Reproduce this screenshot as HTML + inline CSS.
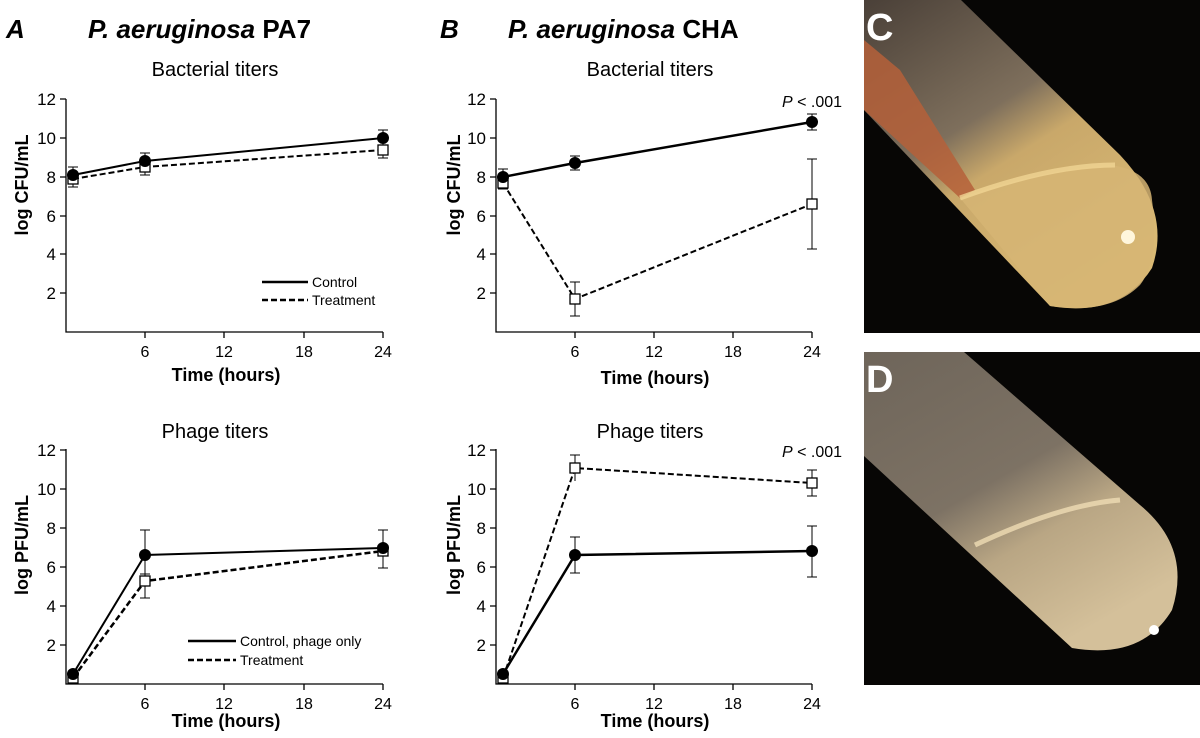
<!DOCTYPE html><html><head><style>body{margin:0;background:#fff}svg text{font-family:"Liberation Sans",Arial,sans-serif}</style></head><body>
<svg width="1200" height="733" xmlns="http://www.w3.org/2000/svg">
<defs>
<linearGradient id="gc" x1="0" y1="0" x2="0.6" y2="1"><stop offset="0" stop-color="#4a4038"/><stop offset="0.45" stop-color="#7e6f5c"/><stop offset="0.6" stop-color="#c9a86a"/><stop offset="1" stop-color="#d9b974"/></linearGradient>
<linearGradient id="gd" x1="0" y1="0" x2="0.6" y2="1"><stop offset="0" stop-color="#6e655a"/><stop offset="0.5" stop-color="#7d7264"/><stop offset="0.7" stop-color="#b9a684"/><stop offset="1" stop-color="#d4c09a"/></linearGradient>
</defs>
<g font-weight="bold">
<text x="6" y="38" font-size="26" font-style="italic">A</text>
<text x="88" y="38" font-size="26"><tspan font-style="italic">P. aeruginosa</tspan> PA7</text>
<text x="440" y="38" font-size="26" font-style="italic">B</text>
<text x="508" y="38" font-size="26"><tspan font-style="italic">P. aeruginosa</tspan> CHA</text>
</g>
<g font-size="20" text-anchor="middle">
<text x="215" y="76">Bacterial titers</text><text x="650" y="76">Bacterial titers</text>
<text x="215" y="438">Phage titers</text><text x="650" y="438">Phage titers</text>
</g>
<g font-size="18" font-weight="bold" text-anchor="middle">
<text x="226" y="381">Time (hours)</text><text x="655" y="384">Time (hours)</text>
<text x="226" y="727">Time (hours)</text><text x="655" y="727">Time (hours)</text>
<text transform="translate(28,185) rotate(-90)">log CFU/mL</text>
<text transform="translate(460,185) rotate(-90)">log CFU/mL</text>
<text transform="translate(28,545) rotate(-90)">log PFU/mL</text>
<text transform="translate(460,545) rotate(-90)">log PFU/mL</text>
</g>
<g font-size="16"><text x="782" y="107"><tspan font-style="italic">P</tspan> &lt; .001</text><text x="782" y="457"><tspan font-style="italic">P</tspan> &lt; .001</text></g>
<g stroke="#000" stroke-width="1.3" fill="none">
<path d="M66,99V332H383M66,99h-6M66,138h-6M66,177h-6M66,216h-6M66,254h-6M66,293h-6M145,332v6M224,332v6M304,332v6M383,332v6"/>
<path d="M66,449V684H383M66,450h-6M66,489h-6M66,528h-6M66,567h-6M66,606h-6M66,645h-6M145,684v6M224,684v6M304,684v6M383,684v6"/>
<path d="M496,99V332H812M496,99h-6M496,138h-6M496,177h-6M496,216h-6M496,254h-6M496,293h-6M575,332v6M654,332v6M733,332v6M812,332v6"/>
<path d="M496,449V684H812M496,450h-6M496,489h-6M496,528h-6M496,567h-6M496,606h-6M496,645h-6M575,684v6M654,684v6M733,684v6M812,684v6"/>
</g>
<g font-size="17" text-anchor="end">
<text x="56" y="105">12</text><text x="56" y="144">10</text><text x="56" y="183">8</text><text x="56" y="222">6</text><text x="56" y="260">4</text><text x="56" y="299">2</text>
<text x="56" y="456">12</text><text x="56" y="495">10</text><text x="56" y="534">8</text><text x="56" y="573">6</text><text x="56" y="612">4</text><text x="56" y="651">2</text>
<text x="486" y="105">12</text><text x="486" y="144">10</text><text x="486" y="183">8</text><text x="486" y="222">6</text><text x="486" y="260">4</text><text x="486" y="299">2</text>
<text x="486" y="456">12</text><text x="486" y="495">10</text><text x="486" y="534">8</text><text x="486" y="573">6</text><text x="486" y="612">4</text><text x="486" y="651">2</text>
</g>
<g font-size="16" text-anchor="middle">
<text x="145" y="357">6</text><text x="224" y="357">12</text><text x="304" y="357">18</text><text x="383" y="357">24</text>
<text x="145" y="709">6</text><text x="224" y="709">12</text><text x="304" y="709">18</text><text x="383" y="709">24</text>
<text x="575" y="357">6</text><text x="654" y="357">12</text><text x="733" y="357">18</text><text x="812" y="357">24</text>
<text x="575" y="709">6</text><text x="654" y="709">12</text><text x="733" y="709">18</text><text x="812" y="709">24</text>
</g>
<g stroke="#000" stroke-width="2.5"><line x1="262" y1="282" x2="308" y2="282"/><line x1="262" y1="300" x2="308" y2="300" stroke-dasharray="6,3"/>
<line x1="188" y1="641" x2="236" y2="641"/><line x1="188" y1="660" x2="236" y2="660" stroke-dasharray="6,3"/></g>
<g font-size="14"><text x="312" y="287">Control</text><text x="312" y="305">Treatment</text><text x="240" y="646">Control, phage only</text><text x="240" y="665">Treatment</text></g>
<g stroke="#000" stroke-width="1" fill="none">
<path d="M73,167v20M68,167h10M68,187h10M145,153v22M140,153h10M140,175h10M383,130v28M378,130h10M378,158h10"/>
<path d="M145,530v44M140,530h10M140,574h10M383,530v38M378,530h10M378,568h10M145,566v32M140,598h10M383,540v26"/>
<path d="M503,169v20M498,169h10M498,189h10M575,156v14M570,156h10M570,170h10M812,114v16M807,114h10M807,130h10M575,282v34M570,282h10M570,316h10M812,159v90M807,159h10M807,249h10"/>
<path d="M575,537v36M570,537h10M570,573h10M812,526v51M807,526h10M807,577h10M575,455v26M570,455h10M812,470v26M807,470h10M807,496h10"/>
</g>
<g fill="none" stroke="#000">
<polyline points="73,175 145,161 383,138" stroke-width="2"/><polyline points="73,179 145,167 383,150" stroke-width="2" stroke-dasharray="6,3"/>
<polyline points="73,674 145,555 383,548" stroke-width="2"/><polyline points="73,678 145,581 383,551" stroke-width="2.5" stroke-dasharray="6,3"/>
<polyline points="503,177 575,163 812,122" stroke-width="2.5"/><polyline points="503,183 575,299 812,204" stroke-width="2" stroke-dasharray="6,3"/>
<polyline points="503,674 575,555 812,551" stroke-width="2.5"/><polyline points="503,678 575,468 812,483" stroke-width="2" stroke-dasharray="6,3"/>
</g>
<g fill="#fff" stroke="#000" stroke-width="1.3">
<rect x="68" y="174" width="10" height="10"/><rect x="140" y="162" width="10" height="10"/><rect x="378" y="145" width="10" height="10"/>
<rect x="68" y="673" width="10" height="10"/><rect x="140" y="576" width="10" height="10"/><rect x="378" y="546" width="10" height="10"/>
<rect x="498" y="178" width="10" height="10"/><rect x="570" y="294" width="10" height="10"/><rect x="807" y="199" width="10" height="10"/>
<rect x="498" y="673" width="10" height="10"/><rect x="570" y="463" width="10" height="10"/><rect x="807" y="478" width="10" height="10"/>
</g>
<g fill="#000">
<circle cx="73" cy="175" r="6"/><circle cx="145" cy="161" r="6"/><circle cx="383" cy="138" r="6"/>
<circle cx="73" cy="674" r="6"/><circle cx="145" cy="555" r="6"/><circle cx="383" cy="548" r="6"/>
<circle cx="503" cy="177" r="6"/><circle cx="575" cy="163" r="6"/><circle cx="812" cy="122" r="6"/>
<circle cx="503" cy="674" r="6"/><circle cx="575" cy="555" r="6"/><circle cx="812" cy="551" r="6"/>
</g>
<!-- photo C -->
<rect x="864" y="0" width="336" height="333" fill="#070605"/>
<path d="M864,0 L961,0 L1120,155 Q1172,210 1152,268 Q1120,318 1050,306 L864,110 Z" fill="url(#gc)"/>
<path d="M960,198 Q1040,170 1110,165 Q1150,170 1152,200 Q1160,260 1140,285 Q1110,315 1050,306 Z" fill="#d6b574" opacity="0.85"/>
<path d="M864,40 L900,70 L975,190 L960,198 L864,110 Z" fill="#b5603a" opacity="0.85"/>
<path d="M960,198 Q1050,165 1115,165" stroke="#f0d494" stroke-width="5" fill="none" opacity="0.8"/>
<circle cx="1128" cy="237" r="7" fill="#fff6dc"/>
<text x="866" y="40" font-size="38" font-weight="bold" fill="#fff">C</text>
<!-- photo D -->
<rect x="864" y="352" width="336" height="333" fill="#070605"/>
<path d="M864,352 L964,352 L1140,505 Q1192,548 1172,610 Q1142,660 1072,648 L864,456 Z" fill="url(#gd)"/>
<path d="M975,545 Q1060,505 1120,500" stroke="#efdcb4" stroke-width="5" fill="none" opacity="0.8"/>
<circle cx="1154" cy="630" r="5" fill="#fff"/>
<text x="866" y="392" font-size="38" font-weight="bold" fill="#fff">D</text>
</svg>
</body></html>
